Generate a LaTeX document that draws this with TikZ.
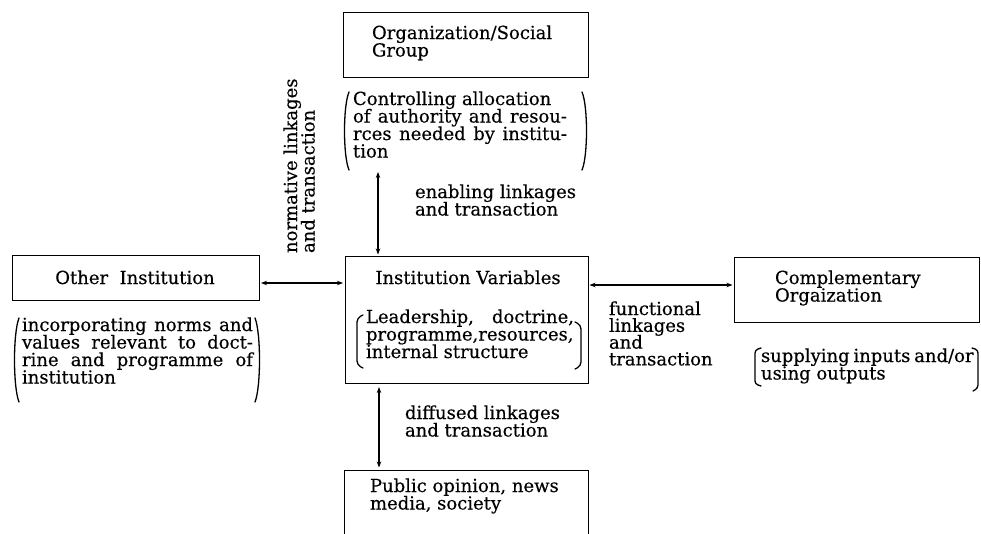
\documentclass[tikz,border=0pt]{standalone}
\usepackage{fontspec}
\setmainfont[FakeBold=0.35]{DejaVu Serif}
\usetikzlibrary{arrows.meta}
\newcommand\bodyfont{\fontsize{18}{17.5}\selectfont}
\newcommand\tightfont{\fontsize{18}{16.8}\selectfont}
\begin{document}
\lineskiplimit=-100pt
\begin{tikzpicture}[x=1pt,y=-1pt,
  every node/.style={inner sep=0pt, outer sep=0pt, font=\bodyfont},
  box/.style={draw, line width=0.9pt, inner sep=0pt},
  txt/.style={anchor=base west},
  link/.style={line width=1.4pt,
    {Stealth[length=6pt,width=4.5pt]}-{Stealth[length=6pt,width=4.5pt]}},
  paren/.style={line width=1.3pt, line cap=round},
]
\useasboundingbox (0,0) rectangle (981,533);

% boxes
\node[box, minimum width=245pt, minimum height=65pt]   (org)   at (465.5,44.5)  {};
\node[box, minimum width=243pt, minimum height=126.5pt] (var)  at (466.5,319.75) {};
\node[box, minimum width=247pt, minimum height=45pt]   (other) at (135.5,277.5) {};
\node[box, minimum width=245pt, minimum height=65.5pt] (comp)  at (856.5,289.75) {};
\node[box, minimum width=244pt, minimum height=80pt]   (pub)   at (466,510)     {};

% texts in and around the boxes
\node[txt] (orgT) at (372,39) {\vtop{\hbox{Organization/Social}\hbox{Group}}};
\node[txt] (ctlT) at (353,105) {\vtop{%
  \hbox{Controlling allocation}%
  \hbox to 214pt{of authority and resou-}%
  \hbox to 214pt{rces needed by institu-}%
  \hbox{tion}}};
\node[txt] (enaT) at (415,198) {\vtop{\hbox{enabling linkages}\hbox{and transaction}}};
\node[rotate=90, anchor=base west] (normT) at (297,253)
  {\vtop{\hbox{normative linkages}\hbox{and transaction}}};
\node[anchor=base] (varT) at (468,284) {Institution Variables};
\node[txt] (varD) at (366,323) {\vtop{%
  \hbox to 208pt{Leadership, doctrine,}%
  \hbox to 208pt{programme,resources,}%
  \hbox{internal structure}}};
\node[anchor=base] (otherT) at (135,284) {Other\ \ Institution};
\node[txt] (otherD) at (22,331) {\vtop{%
  \hbox to 231pt{incorporating norms and}%
  \hbox to 231pt{values relevant to doct-}%
  \hbox to 231pt{rine and programme of}%
  \hbox{institution}}};
\node[txt] (compT) at (775,284) {\vtop{\hbox{Complementary}\hbox{Orgaization}}};
\node[txt] (compD) at (761,362) {\vtop{\hbox to 211pt{supplying inputs and/or}\hbox{using outputs}}};
\node[txt, font=\tightfont] (funT) at (609,315)
  {\vtop{\hbox{functional}\hbox{linkages}\hbox{and}\hbox{transaction}}};
\node[txt] (difT) at (405,419) {\vtop{\hbox{diffused linkages}\hbox{and transaction}}};
\node[txt] (pubT) at (370,492) {\vtop{\hbox{Public opinion, news}\hbox{media, society}}};

% brackets round the descriptions
\draw[paren] (349,92) .. controls (343,106) and (343,156) .. (349,170);
\draw[paren] (582,92) .. controls (588,106) and (588,156) .. (582,170);
\draw[paren] (19,318) .. controls (13,333) and (13,387) .. (19,402);
\draw[paren] (255,318) .. controls (261,333) and (261,387) .. (255,402);
\draw[paren, rounded corners=4pt] (363,315) -- (357,318) -- (357,365) -- (363,368);
\draw[paren, rounded corners=4pt] (575,322) -- (581,325) -- (581,366) -- (575,369);
\draw[paren, rounded corners=3pt] (761,348) -- (755,350) -- (755,384) -- (761,386);
\draw[paren, rounded corners=3pt] (972,348) -- (978,350) -- (978,388) -- (973,391);

% linkages
\coordinate (topA) at (378,172);
\coordinate (hl) at (0,283);
\coordinate (hr) at (0,285);
\coordinate (vb) at (379,0);
\draw[link, shorten >=2pt] (topA) -- (var.north -| topA);
\draw[link, shorten <=2pt, shorten >=2pt] (other.east |- hl) -- (var.west |- hl);
\draw[link, shorten <=1.5pt, shorten >=1.5pt] (var.east |- hr) -- (comp.west |- hr);
\draw[link, shorten <=4pt, shorten >=2.5pt] (var.south -| vb) -- (pub.north -| vb);
\end{tikzpicture}
\end{document}
